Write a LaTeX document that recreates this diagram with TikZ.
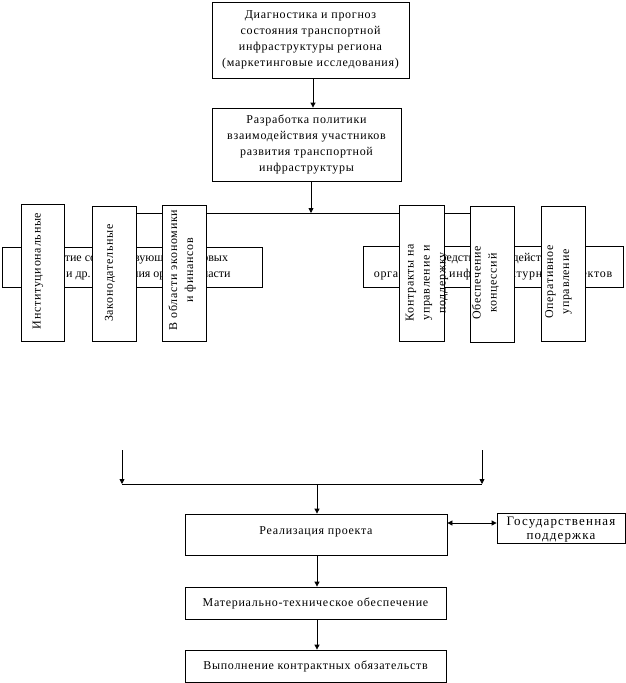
\documentclass[tikz,border=0pt]{standalone}
\usepackage{fontspec}
\setmainfont{Liberation Serif}[LetterSpace=6]
\newfontfamily\plainserif{Liberation Serif}
\usetikzlibrary{arrows.meta}
\begin{document}
\begin{tikzpicture}[x=1pt,y=-1pt,
  every node/.style={font=\fontsize{12}{16}\selectfont},
  box/.style={draw,line width=0.8pt,fill=white,inner sep=0pt,align=center},
  vbox/.style={draw,line width=0.8pt,fill=white,inner sep=0pt},
  vtext/.style={rotate=90,inner sep=0pt,align=center},
  ln/.style={line width=0.8pt},
  arr/.style={line width=0.8pt,-{Triangle[length=5pt,width=5pt]}},
  darr/.style={line width=0.8pt,{Triangle[length=5pt,width=5pt]}-{Triangle[length=5pt,width=5pt]}}]
\useasboundingbox (0,0) rectangle (626,683);
% top boxes
\node[box,minimum width=197pt,minimum height=76pt] (diag) at (310.5,40)
  {Диагностика и прогноз\\состояния транспортной\\инфраструктуры региона\\(маркетинговые исследования)};
\node[box,minimum width=189pt,minimum height=73pt] (polit) at (306.5,144.5)
  {Разработка политики\\взаимодействия участников\\развития транспортной\\инфраструктуры};
\coordinate (jA) at (313,108);
\draw[arr] (diag.south -| jA) -- (polit.north -| jA);
\coordinate (bl) at (122,213);
\coordinate (br) at (482,213);
\coordinate (bm) at (311,213);
\draw[arr] (polit.south -| bm) -- (bm);
\draw[ln] (bl) -- (br);
% horizontal boxes (partly hidden)
\node[box,minimum width=260pt,minimum height=40pt,font=\fontsize{12}{16}\plainserif] (hl) at (132,267)
  {Развитие соответствующих правовых\\\hspace*{4pt}норм и др. положения органов власти};
\node[box,minimum width=260pt,minimum height=41pt] (hr) at (493,266.5)
  {{\plainserif\hspace*{8pt}средств взаимодействия}\\организации инфраструктурных объектов};
% vertical boxes
\node[vbox,minimum width=43pt,minimum height=137pt] (v1) at (42.5,272.5) {};
\node[vtext] (t1) at (38,271) {Институциональные};
\node[vbox,minimum width=44pt,minimum height=135pt] (v2) at (114,273.5) {};
\node[vtext] (t2) at (110,273) {Законодательные};
\node[vbox,minimum width=44pt,minimum height=136pt] (v3) at (184,273) {};
\node[vtext] (t3) at (182,270) {В области экономики\\и финансов};
\node[vbox,minimum width=45pt,minimum height=136pt] (v4) at (421.5,273) {};
\node[vtext] (t4) at (427,283) {Контракты на\\управление и\\поддержку};
\node[vbox,minimum width=44pt,minimum height=136pt] (v5) at (492,274) {};
\node[vtext] (t5) at (485.5,283) {Обеспечение\\концессий};
\node[vbox,minimum width=44pt,minimum height=135pt] (v6) at (563,273.5) {};
\node[vtext] (t6) at (558.5,282) {Оперативное\\управление};
% lower part
\node[box,minimum width=262pt,minimum height=41pt,text height=9pt,text depth=10pt] (real) at (316,534.5) {Реализация проекта};
\node[box,minimum width=128pt,minimum height=30pt,text height=26pt,text depth=3pt,
  font=\fontsize{13}{14.5}\selectfont\addfontfeature{LetterSpace=9}] (gos) at (561,528) {Государственная\\поддержка};
\node[box,minimum width=261pt,minimum height=32pt] (mat) at (315.5,603) {Материально-техническое обеспечение};
\node[box,minimum width=261pt,minimum height=32pt] (vyp) at (315.5,666) {Выполнение контрактных обязательств};
\coordinate (ltop) at (122,450);
\coordinate (rtop) at (482,450);
\coordinate (lj) at (122,484);
\coordinate (rj) at (482,484);
\coordinate (mj) at (317,484);
\draw[arr] (ltop) -- (lj);
\draw[arr] (rtop) -- (rj);
\draw[ln] (lj) -- (rj);
\draw[arr] (mj) -- (real.north -| mj);
\draw[darr] (real.east |- 0,523) -- (gos.west |- 0,523);
\coordinate (mx) at (317,0);
\draw[arr] (real.south -| mx) -- (mat.north -| mx);
\draw[arr] (mat.south -| mx) -- (vyp.north -| mx);
\end{tikzpicture}
\end{document}
